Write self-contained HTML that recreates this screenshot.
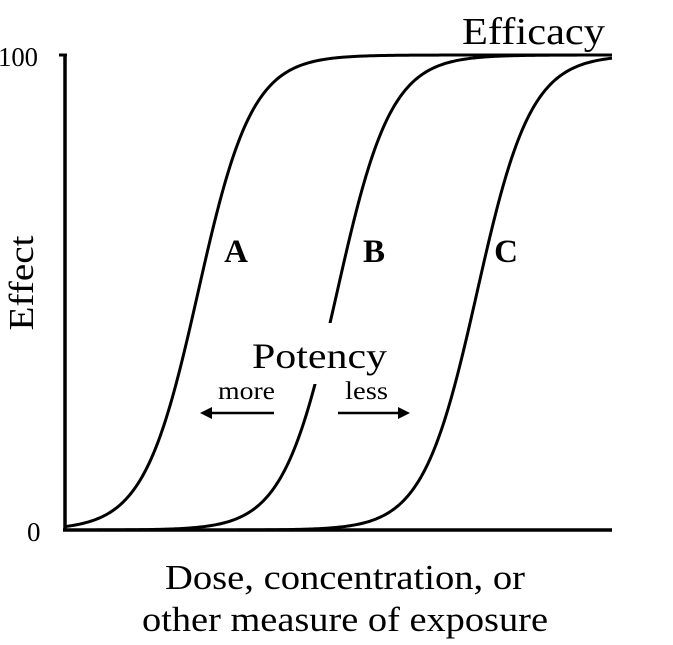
<!DOCTYPE html>
<html><head><style>
html,body{margin:0;padding:0;background:#fff;width:673px;height:645px;overflow:hidden}
text{font-family:"Liberation Serif",serif;fill:#000}
</style></head><body>
<svg id="s" width="673" height="645" viewBox="0 0 673 645" xmlns="http://www.w3.org/2000/svg">
<line x1="65" y1="55" x2="65" y2="531" stroke="#000" stroke-width="3.5"/>
<line x1="63" y1="530" x2="612" y2="530" stroke="#000" stroke-width="3.5"/>
<line x1="59" y1="55" x2="67" y2="55" stroke="#000" stroke-width="3"/>
<g id="curves" fill="none" stroke="#000" stroke-width="3"></g>
<rect x="293" y="323" width="40" height="61" fill="#fff"/>
<text x="462" y="44" font-size="38" textLength="143" lengthAdjust="spacingAndGlyphs">Efficacy</text>
<text x="-2" y="66" font-size="27" textLength="40" lengthAdjust="spacingAndGlyphs">100</text>
<text x="27" y="541" font-size="27">0</text>
<text transform="translate(33,283) rotate(-90)" font-size="35" text-anchor="middle" textLength="95" lengthAdjust="spacingAndGlyphs">Effect</text>
<text x="236" y="262" font-size="33" font-weight="bold" text-anchor="middle">A</text>
<text x="374" y="262" font-size="33" font-weight="bold" text-anchor="middle">B</text>
<text x="506" y="262" font-size="33" font-weight="bold" text-anchor="middle">C</text>
<text x="252" y="368" font-size="36" textLength="135" lengthAdjust="spacingAndGlyphs">Potency</text>
<text x="218" y="399" font-size="25" textLength="57" lengthAdjust="spacingAndGlyphs">more</text>
<text x="345" y="399" font-size="25" textLength="43" lengthAdjust="spacingAndGlyphs">less</text>
<line x1="274" y1="413" x2="210" y2="413" stroke="#000" stroke-width="2.5"/>
<polygon points="200,413 212,407 212,419" fill="#000"/>
<line x1="338" y1="413" x2="400" y2="413" stroke="#000" stroke-width="2.5"/>
<polygon points="410,413 398,407 398,419" fill="#000"/>
<text x="165" y="589" font-size="35" textLength="360" lengthAdjust="spacingAndGlyphs">Dose, concentration, or</text>
<text x="142" y="631" font-size="35" textLength="406" lengthAdjust="spacingAndGlyphs">other measure of exposure</text>
</svg>
<script>
var g=document.getElementById('curves');
[198,337,477].forEach(function(m){
 var d='';
 for(var x=66;x<=612;x+=2){
  var f=1/(1+Math.exp(-(x-m)/27));
  var y=530-475*f;
  d+=(d?'L':'M')+x+','+y.toFixed(2);
 }
 var p=document.createElementNS('http://www.w3.org/2000/svg','path');
 p.setAttribute('d',d);g.appendChild(p);
});
</script>
</body></html>
